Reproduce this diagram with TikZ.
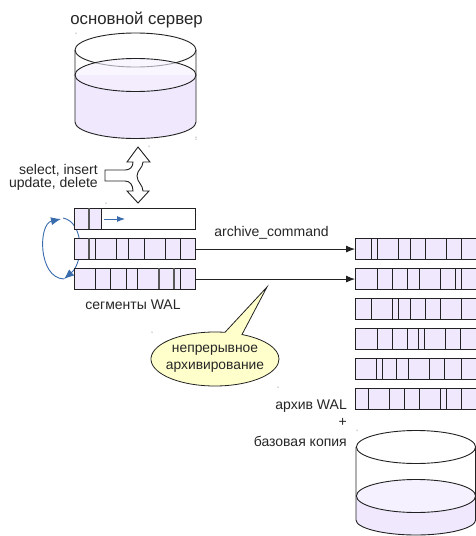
\documentclass[tikz,border=0pt]{standalone}
\usepackage{fontspec}
\setmainfont{Liberation Sans}
\usetikzlibrary{shapes.callouts,arrows.meta}
\definecolor{liq}{HTML}{F0E9FE}
\definecolor{liqtop}{HTML}{F5F1FF}
\definecolor{ln}{HTML}{222222}
\definecolor{blu}{HTML}{3A6CAD}
\definecolor{yel}{HTML}{FFFFCC}
\tikzset{
  barbox/.style={draw=ln,line width=1.1pt,rectangle,inner sep=0pt,anchor=north west,fill=liq},
  div/.style={ln,line width=.9pt},
  gdiv/.style={draw=black!65,line width=1.2pt},
  lbl/.style={font=\fontsize{14}{16}\selectfont,inner sep=0pt,text=black!85},
  cyl/.style={draw=ln,line width=.9pt},
  flow/.style={draw=ln,line width=.8pt,-{Latex[length=9pt,width=7pt]}},
  cyc/.style={draw=blu,line width=.9pt,-{Latex[length=10pt,width=8pt]}},
  speck/.style={fill=black!70,draw=none}
}
\begin{document}
\begin{tikzpicture}[x=1pt,y=-1pt]
\useasboundingbox (0,0) rectangle (476,536);
\fill[white] (0,0) rectangle (476,536);
% main cylinder
\path[fill=liq] (75,75) -- (75,122) .. controls (75,131) and (102,138.5) .. (135.5,138.5) .. controls (169,138.5) and (196,131) .. (196,122) -- (196,75) -- cycle;
\draw[cyl] (135.5,50) ellipse[x radius=60.5,y radius=17];
\draw[cyl,fill=liqtop,fill opacity=.6] (135.5,75) ellipse[x radius=60.5,y radius=16.5];
\draw[cyl] (75,50) -- (75,122) .. controls (75,131) and (102,138.5) .. (135.5,138.5) .. controls (169,138.5) and (196,131) .. (196,122) -- (196,50);
\node[lbl,font=\fontsize{16.8}{18}\selectfont] (srv) at (136.5,20) {основной сервер};
% double arrow
\draw[draw=ln,line width=.9pt,fill=white] (105,170) -- (125,170) .. controls (130,170) and (133,167) .. (133,162) -- (127,162) -- (138,147) -- (150,162) -- (143,162) .. controls (143,168) and (137,170) .. (137,176) .. controls (137,182) and (143,185) .. (143,191) -- (149,191) -- (138,203) -- (127,191) -- (133,191) .. controls (133,185) and (130,181) .. (125,181) -- (105,181) -- cycle;
\node[lbl,anchor=east] (q1) at (98,170) {select, insert};
\node[lbl,anchor=east] (q2) at (98,184) {update, delete};
% cycle arrows (behind the bars)
\coordinate (ca) at (63,218);
\coordinate (cb) at (64,279);
\coordinate (cc) at (61,219);
\draw[cyc] (cb) .. controls (38,278) and (38,224) .. (cc);
\draw[cyc] (ca) .. controls (84,222) and (84,262) .. (cb);
% left bars
\node[barbox,fill=white,minimum width=121pt,minimum height=21pt] (b1) at (74,208) {};
\fill[liq] (74.5,208.5) rectangle (101,228.5);
\draw[gdiv] (89,208) -- (89,229);
\draw[div] (101,208) -- (101,229);
\draw[draw=blu,line width=.9pt,-{Latex[length=8pt,width=6pt]}] (104,219) -- (125,219);
\node[barbox,minimum width=121pt,minimum height=21pt] (b2) at (74,238) {};
\draw[gdiv] (89,238) -- (89,259);
\foreach \x in {95,116,128,144,165,180} \draw[div] (\x,238) -- (\x,259);
\node[barbox,minimum width=121pt,minimum height=21pt] (b3) at (74,268) {};
\foreach \x in {95,110,126,137,180} \draw[div] (\x,268) -- (\x,289);
\draw[gdiv] (159,268) -- (159,289);
\draw[gdiv] (174,268) -- (174,289);
\node[lbl] (seg) at (133,305) {сегменты WAL};
% right bars
\foreach \n/\y in {r1/238,r2/268,r3/298,r4/328,r5/358,r6/388}
  \node[barbox,minimum width=121pt,minimum height=21pt] (\n) at (355,\y) {};
\foreach \y/\L in {238/{371,377,398,410,425,446,461},268/{377,392,407,419,440,455,461},298/{371,392,398,410,425,440,461},328/{377,392,407,418,424,445,460},358/{376,382,396,408,429,444,461},388/{368,389,404,419,440,446,461}}
  \foreach \x in \L \draw[div] (\x,\y) -- (\x,\y+21);
% connectors
\draw[flow] (b2.east) -- (r1.west);
\draw[flow] (b3.east) -- (r2.west);
\node[lbl] (ac) at (271.5,233) {archive\_command};
% callout
\node[draw=ln,line width=.8pt,fill=yel,ellipse callout,callout absolute pointer={(267,287)},callout pointer arc=16,minimum width=128pt,minimum height=54pt,inner sep=0pt] (co) at (215,359) {};
\node[align=center,inner sep=0pt,font=\fontsize{13.8}{17}\selectfont,text=black!85] (cot) at (co.center) {непрерывное\\архивирование};
% archive labels
\node[lbl,anchor=east] (aw) at (347,406) {архив WAL};
\node[lbl,anchor=east] (pl) at (347,422) {+};
\node[lbl,anchor=east] (bk) at (347,441) {базовая копия};
% archive cylinder
\path[fill=liq] (356,496) -- (356,520) .. controls (356,528) and (383,535) .. (416,535) .. controls (449,535) and (476,528) .. (476,520) -- (476,496) -- cycle;
\draw[cyl] (356,447) -- (356,520) .. controls (356,528) and (383,535) .. (416,535) .. controls (449,535) and (475.6,528) .. (475.6,520) -- (475.6,447);
\draw[cyl] (416,447) ellipse[x radius=59.6,y radius=16.5];
\draw[cyl,fill=liqtop] (416,496) ellipse[x radius=59.6,y radius=16.5];
% specks
\foreach \x/\y in {76/33,196/137,149/146,196/139,106/203,152/332,278/387,357/430}
  \fill[speck] (\x,\y) circle[radius=.5];
\end{tikzpicture}
\end{document}
